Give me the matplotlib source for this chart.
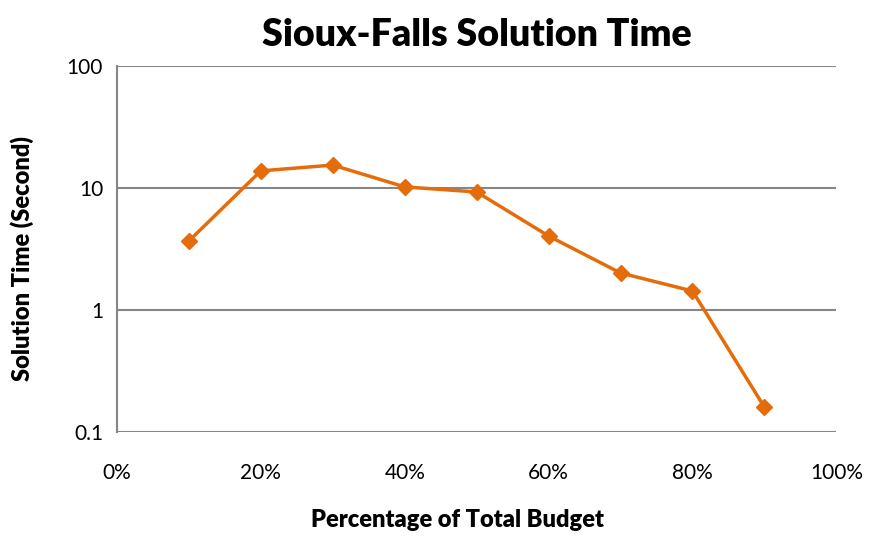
import matplotlib
matplotlib.use("Agg")
import matplotlib.pyplot as plt
from matplotlib.ticker import FixedLocator, FixedFormatter, NullLocator

plt.rcParams['font.family'] = ['Lato', 'DejaVu Sans']

budget = [0.1, 0.2, 0.3, 0.4, 0.5, 0.6, 0.7, 0.8, 0.9]
sol_time = [3.68, 13.8, 15.4, 10.2, 9.27, 4.04, 2.01, 1.43, 0.16]
x_ticks = [0, 0.2, 0.4, 0.6, 0.8, 1.0]
x_labels = ["0%", "20%", "40%", "60%", "80%", "100%"]
y_ticks = [0.1, 1, 10, 100]
y_labels = ["0.1", "1", "10", "100"]

orange = "#E46C0A"
grey = "#868686"

fig = plt.figure(figsize=(8.73, 5.36), dpi=100)
ax = fig.add_axes([0.134, 0.194, 0.824, 0.683])

ax.plot(budget, sol_time, color=orange, lw=2.5, marker="D", ms=8, mec=orange, mfc=orange)
ax.set_yscale("log")
ax.set_xlim(0, 1)
ax.set_ylim(0.1, 100)

ax.yaxis.set_major_locator(FixedLocator(y_ticks))
ax.yaxis.set_major_formatter(FixedFormatter(y_labels))
ax.yaxis.set_minor_locator(NullLocator())
ax.set_xticks(x_ticks)
ax.set_xticklabels(x_labels)
ax.grid(axis="y", color=grey, lw=1.5)
ax.tick_params(length=0, labelsize=15, pad=10)
ax.tick_params(axis="x", pad=22)

for s in ["top", "right", "bottom"]:
    ax.spines[s].set_visible(False)
ax.spines["left"].set_color(grey)
ax.spines["left"].set_linewidth(1.5)

ax.set_title("Sioux-Falls Solution Time", fontsize=27, fontweight="heavy", pad=14)
ax.set_xlabel("Percentage of Total Budget", fontsize=17, fontweight="heavy")
ax.set_ylabel("Solution Time (Second)", fontsize=17, fontweight="heavy")
ax.xaxis.set_label_coords(0.473, -0.24)
ax.yaxis.set_label_coords(-0.132, 0.473)
ax.xaxis.label.set_va("center")
ax.yaxis.label.set_va("center")

fig.savefig("out.png", dpi=100)
